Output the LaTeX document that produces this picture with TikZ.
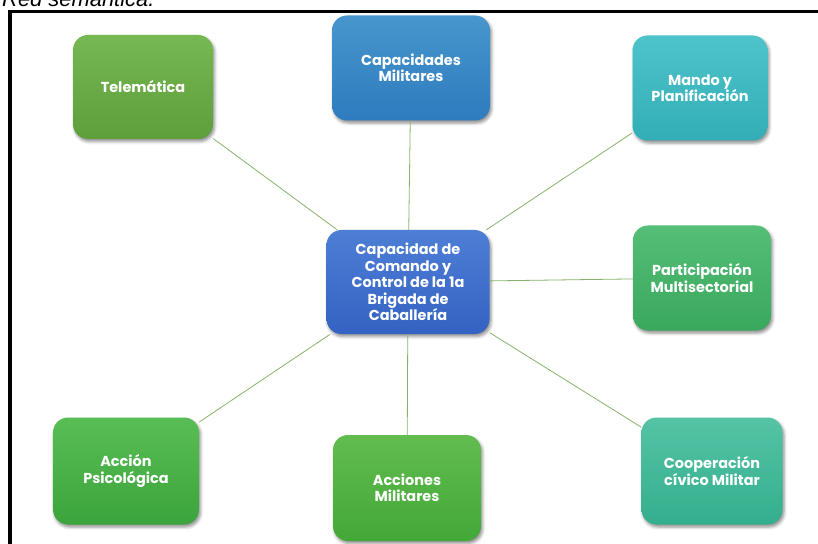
\documentclass[tikz,border=0pt]{standalone}
\usepackage{fontspec}
\setmainfont{Poppins}
\newfontfamily\titlefont{Liberation Sans}
\usetikzlibrary{shadows.blur}
\definecolor{linkc}{HTML}{86B36A}
\definecolor{teleT}{HTML}{76B852}\definecolor{teleB}{HTML}{5E9E3B}
\definecolor{capT}{HTML}{4796CC}\definecolor{capB}{HTML}{2E7BBE}
\definecolor{manT}{HTML}{4EC3CB}\definecolor{manB}{HTML}{33AEB6}
\definecolor{cenT}{HTML}{4E7FD6}\definecolor{cenB}{HTML}{3462C2}
\definecolor{parT}{HTML}{55BE77}\definecolor{parB}{HTML}{39A85D}
\definecolor{acpT}{HTML}{59BD55}\definecolor{acpB}{HTML}{3CA43C}
\definecolor{acmT}{HTML}{62BC50}\definecolor{acmB}{HTML}{43A838}
\definecolor{coT}{HTML}{55C3A5}\definecolor{coB}{HTML}{33AF8D}
\tikzset{
  concept/.style={rounded corners=15bp, align=center, text=white,
    font=\fontsize{14.5}{16.5}\selectfont\bfseries, inner sep=0pt,
    blur shadow={shadow xshift=1.5bp, shadow yshift=-2.5bp, shadow blur radius=3bp, shadow opacity=45}},
  link/.style={draw=linkc, line width=0.8bp},
  frameline/.style={line width=3.5bp, black}
}
\begin{document}
\begin{tikzpicture}[x=1bp,y=-1bp]
\useasboundingbox (0,0) rectangle (818,544);
\node[anchor=base west, font=\titlefont\itshape\fontsize{22}{24}\selectfont, inner sep=0pt] (title) at (2,7) {Red semántica.};
\coordinate (fTL) at (10,11.5);
\coordinate (fTR) at (830,11.5);
\coordinate (fBL) at (10,560);
\draw[frameline] (fBL) -- (fTL) -- (fTR);
\node[concept, minimum width=140bp, minimum height=104bp, top color=teleT, bottom color=teleB] (tele) at (143,87) {Telemática};
\node[concept, minimum width=158bp, minimum height=105bp, top color=capT, bottom color=capB] (cap) at (411,68) {Capacidades\\Militares};
\node[concept, minimum width=135bp, minimum height=105bp, top color=manT, bottom color=manB] (man) at (700,88) {Mando y\\Planificación};
\node[concept, minimum width=163bp, minimum height=104bp, top color=cenT, bottom color=cenB] (cen) at (408,282) {Capacidad de\\Comando y\\Control de la 1a\\Brigada de\\Caballería};
\node[concept, minimum width=138bp, minimum height=105bp, top color=parT, bottom color=parB] (par) at (702,278) {Participación\\Multisectorial};
\node[concept, minimum width=146bp, minimum height=107bp, top color=acpT, bottom color=acpB] (acp) at (126,471) {Acción\\Psicológica};
\node[concept, minimum width=148bp, minimum height=106bp, top color=acmT, bottom color=acmB] (acm) at (407,488) {Acciones\\Militares};
\node[concept, minimum width=141bp, minimum height=107bp, top color=coT, bottom color=coB] (coo) at (712,471) {Cooperación\\cívico Militar};
\draw[link] (cen) -- (tele);
\draw[link] (cen) -- (cap);
\draw[link] (cen) -- (man);
\draw[link] (cen) -- (par);
\draw[link] (cen) -- (acp);
\draw[link] (cen) -- (acm);
\draw[link] (cen) -- (coo);
\end{tikzpicture}
\end{document}
